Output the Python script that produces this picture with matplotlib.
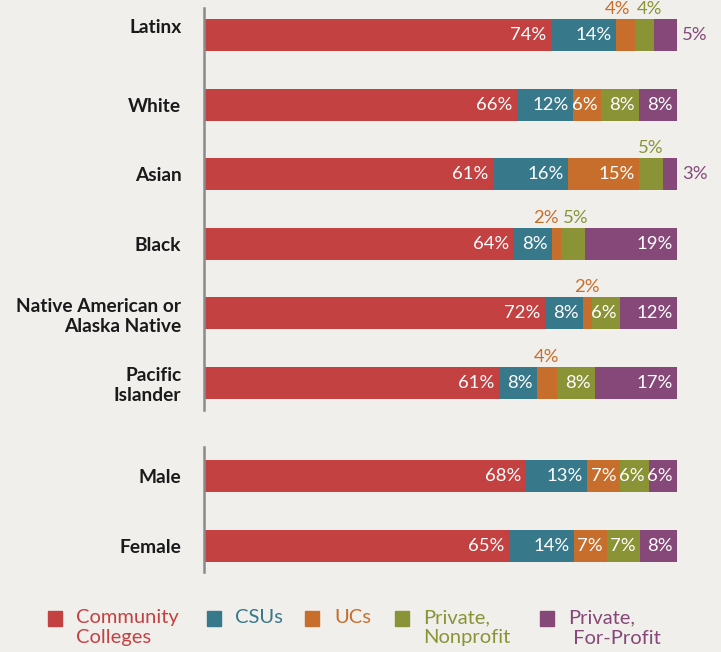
import numpy as np
import matplotlib.pyplot as plt
from matplotlib.patches import Rectangle
from matplotlib.transforms import ScaledTranslation

plt.rcParams['font.family'] = ['Lato', 'DejaVu Sans']

# data
groups = ["Latinx", "White", "Asian", "Black", "Native American or\nAlaska Native",
          "Pacific\nIslander", "Male", "Female"]
series = ["Community\nColleges", "CSUs", "UCs", "Private,\nNonprofit", "Private,\n For-Profit"]
community = [74, 66, 61, 64, 72, 61, 68, 65]
csus = [14, 12, 16, 8, 8, 8, 13, 14]
ucs = [4, 6, 15, 2, 2, 4, 7, 7]
nonprofit = [4, 8, 5, 5, 6, 8, 6, 7]
forprofit = [5, 8, 3, 19, 12, 17, 6, 8]

colors = ["#C44142", "#37788B", "#C86E2D", "#8A9437", "#854878"]
bg = "#F0EFEC"

# layout
ypos = np.array([0, 1, 2, 3, 4, 5, 6.34, 7.34])
bar_h = 0.46
fs = 13.3

fig = plt.figure(figsize=(7.21, 6.52), dpi=100, facecolor=bg)
ax = fig.add_axes([205 / 721, 1 - 600 / 652, 472 / 721, 600 / 652])
ax.set_facecolor(bg)

values = np.array([community, csus, ucs, nonprofit, forprofit], dtype=float)
totals = values.sum(axis=0)
shares = values / totals * 100
small = values < 6

left = np.zeros(len(groups))
for i in range(len(series)):
    ax.barh(ypos, shares[i], left=left, height=bar_h, color=colors[i], linewidth=0)
    for j in range(len(groups)):
        v = values[i, j]
        right = left[j] + shares[i, j]
        lab = "%d%%" % v
        if not small[i, j]:
            ax.annotate(lab, (right, ypos[j]), xytext=(-3, 0), textcoords="offset points",
                        ha="right", va="center", color="white", fontsize=fs)
        elif i == len(series) - 1:
            ax.annotate(lab, (right, ypos[j]), xytext=(3.5, 0), textcoords="offset points",
                        ha="left", va="center", color=colors[i], fontsize=fs)
        else:
            # nudge neighbouring labels above the bar apart
            dx = 0
            if i == 2 and small[3, j]:
                dx = -6 if shares[i, j] > 3 else -8
            elif i == 3 and small[2, j]:
                dx = 4 if shares[i, j] < 4.5 else 2
            ax.annotate(lab, (left[j] + shares[i, j] / 2, ypos[j] - bar_h / 2),
                        xytext=(dx, 1.5), textcoords="offset points",
                        ha="center", va="bottom", color=colors[i], fontsize=fs)
    left += shares[i]

ax.set_xlim(0, 100)
ax.set_ylim((600 - 35) / 69.6, -35 / 69.6)
ax.set_yticks(ypos)
ax.set_yticklabels(groups, fontsize=13.8, fontweight="bold", color="#1a1a1a", linespacing=1.2)
ax.tick_params(axis="y", length=0, pad=17)
ax.set_xticks([])
for s in ax.spines.values():
    s.set_visible(False)
# Latinx label sits a little higher than its bar in the original
lbl = ax.get_yticklabels()[0]
lbl.set_transform(lbl.get_transform() + ScaledTranslation(0, 0.09, fig.dpi_scale_trans))

# split axis lines
ax.plot([-0.25, -0.25], [-0.39, 5.39], color="#8a8a8a", lw=1.8, clip_on=False)
ax.plot([-0.25, -0.25], [5.92, 7.72], color="#8a8a8a", lw=1.8, clip_on=False)

# legend
sq_x = [48, 207, 305, 395, 540]
txt_x = [76, 235, 334, 423, 568]
for i in range(len(series)):
    fig.patches.append(Rectangle((sq_x[i] / 721, 1 - 626 / 652), 14 / 721, 15 / 652,
                                 transform=fig.transFigure, color=colors[i]))
    fig.text(txt_x[i] / 721, 1 - 609 / 652, series[i], color=colors[i], fontsize=14.5,
             ha="left", va="top", linespacing=1.25)

fig.savefig("out.png", dpi=100, facecolor=bg)
